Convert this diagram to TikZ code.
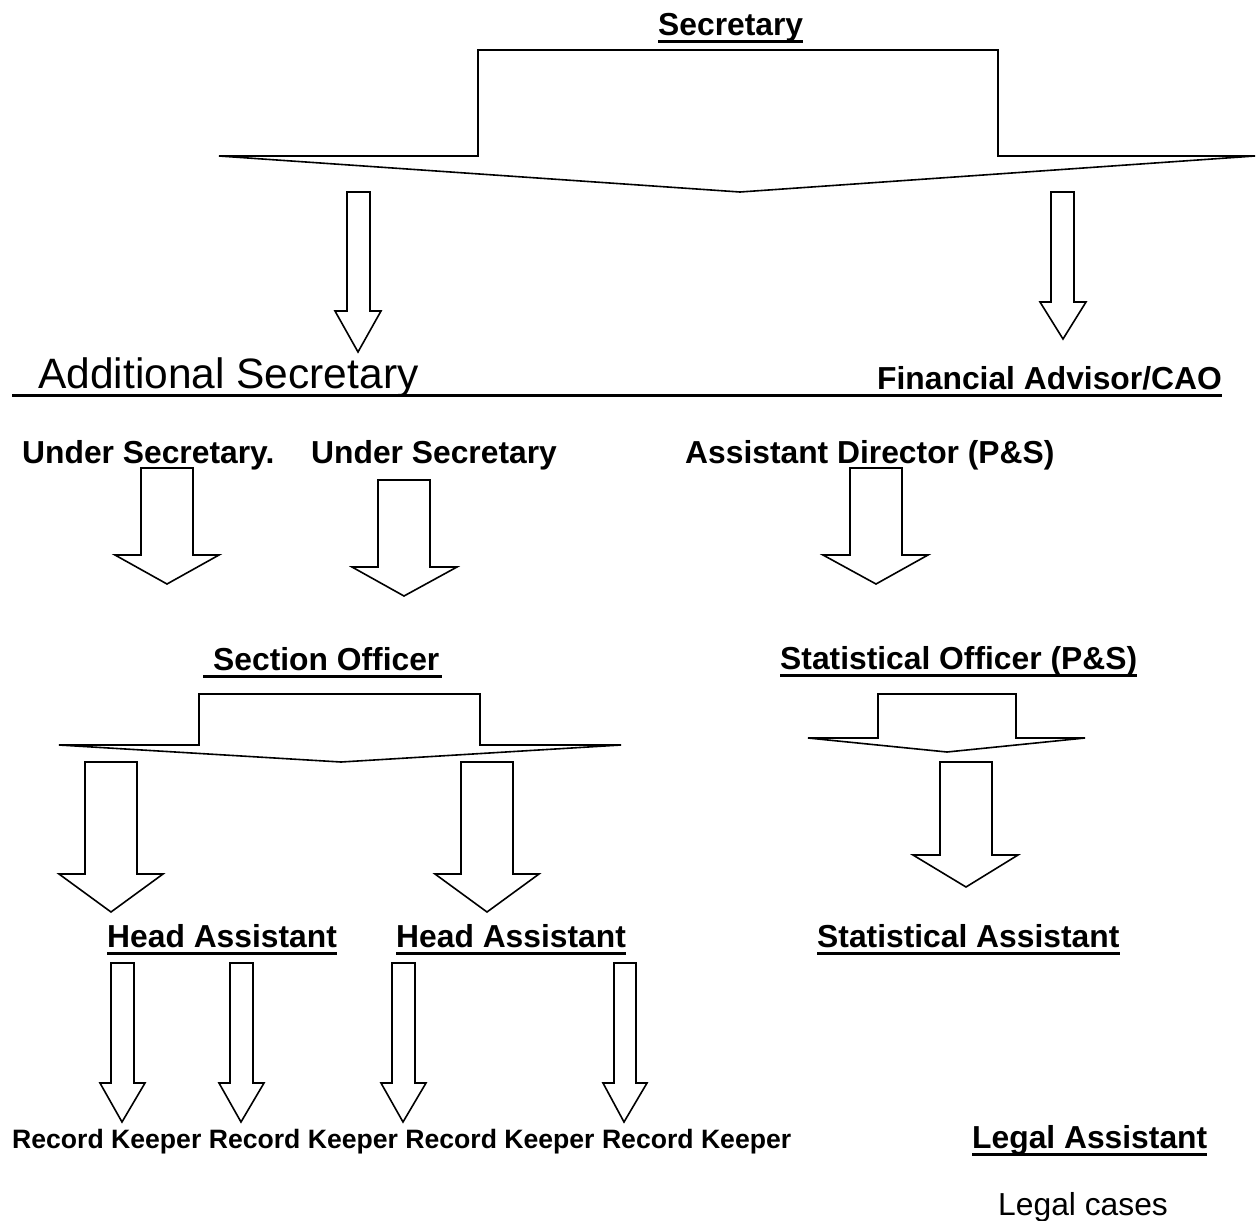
\documentclass[tikz,border=0pt]{standalone}
\usepackage{fontspec}
\setmainfont{Liberation Sans}
\newcommand{\blockarr}[8]{%
  \draw[barrow] (#1,#6) -- (#2,#6) -- (#2,#7) -- (#4,#7) -- (#5,#8) -- (#3,#7) -- (#1,#7) -- cycle;}
\tikzset{
  barrow/.style={draw=black, line width=1.6pt, line join=miter, fill=white},
  lbl/.style={inner sep=0pt, anchor=base west, font=\bfseries\fontsize{31.8}{36}\selectfont},
  plain/.style={inner sep=0pt, anchor=base west, font=\fontsize{31.8}{36}\selectfont},
  bigplain/.style={inner sep=0pt, anchor=base west, font=\fontsize{42.5}{48}\selectfont},
  rk/.style={inner sep=0pt, anchor=base west, font=\bfseries\fontsize{26.6}{30}\selectfont},
  uline/.style={line width=3pt}
}
\begin{document}
\begin{tikzpicture}[x=1pt,y=-1pt]
\useasboundingbox (0,0) rectangle (1256,1221);
% block arrows
\blockarr{478}{998}{219}{1255}{740}{50}{156}{192}
\blockarr{347}{370}{335}{381}{358}{192}{311}{352}
\blockarr{1051}{1074}{1040}{1086}{1063}{192}{302}{339}
\blockarr{141}{193}{115}{219}{167}{468}{555}{584}
\blockarr{378}{430}{352}{457}{404}{480}{567}{596}
\blockarr{850}{902}{823}{928}{876}{468}{555}{584}
\blockarr{199}{480}{59}{621}{341}{694}{745}{762}
\blockarr{85}{137}{59}{163}{111}{762}{874}{912}
\blockarr{461}{513}{435}{539}{487}{762}{874}{912}
\blockarr{878}{1016}{808}{1085}{947}{694}{738}{752}
\blockarr{940}{992}{913}{1018}{966}{762}{855}{887}
\blockarr{111}{134}{100}{145}{122}{963}{1083}{1122}
\blockarr{230}{253}{219}{264}{241}{963}{1083}{1122}
\blockarr{392}{415}{381}{426}{403}{963}{1083}{1122}
\blockarr{614}{636}{603}{647}{624}{963}{1083}{1122}
% labels
\node[lbl] (sec) at (658,35) {Secretary};
\node[bigplain] (addl) at (38,388) {Additional Secretary};
\node[lbl] (fa) at (877,389) {Financial Advisor/CAO};
\node[lbl] (us1) at (22,463) {Under Secretary.};
\node[lbl] (us2) at (311,463) {Under Secretary};
\node[lbl] (ad) at (685,463) {Assistant Director (P\&S)};
\node[lbl] (so) at (213,670) {Section Officer};
\node[lbl] (sto) at (780,669) {Statistical Officer (P\&S)};
\node[lbl] (ha1) at (107,947) {Head Assistant};
\node[lbl] (ha2) at (396,947) {Head Assistant};
\node[lbl] (sta) at (817,947) {Statistical Assistant};
\node[rk] (rk1) at (12,1148) {Record Keeper};
\node[rk] (rk2) at (208.6,1148) {Record Keeper};
\node[rk] (rk3) at (405.2,1148) {Record Keeper};
\node[rk] (rk4) at (601.8,1148) {Record Keeper};
\node[lbl] (la) at (972,1148) {Legal Assistant};
\node[plain] (lc) at (998,1215) {Legal cases};
% underlines
\draw[uline] ([yshift=-6pt]sec.base west) -- ([yshift=-6pt]sec.base east);
\draw[uline] (12,395) -- ([yshift=-6pt]fa.base east);
\draw[uline] ([xshift=-10pt,yshift=-6pt]so.base west) -- ([xshift=2pt,yshift=-6pt]so.base east);
\draw[uline] ([yshift=-6pt]sto.base west) -- ([yshift=-6pt]sto.base east);
\draw[uline] ([yshift=-6pt]ha1.base west) -- ([yshift=-6pt]ha1.base east);
\draw[uline] ([yshift=-6pt]ha2.base west) -- ([yshift=-6pt]ha2.base east);
\draw[uline] ([yshift=-6pt]sta.base west) -- ([yshift=-6pt]sta.base east);
\draw[uline] ([yshift=-6pt]la.base west) -- ([yshift=-6pt]la.base east);
\end{tikzpicture}
\end{document}
